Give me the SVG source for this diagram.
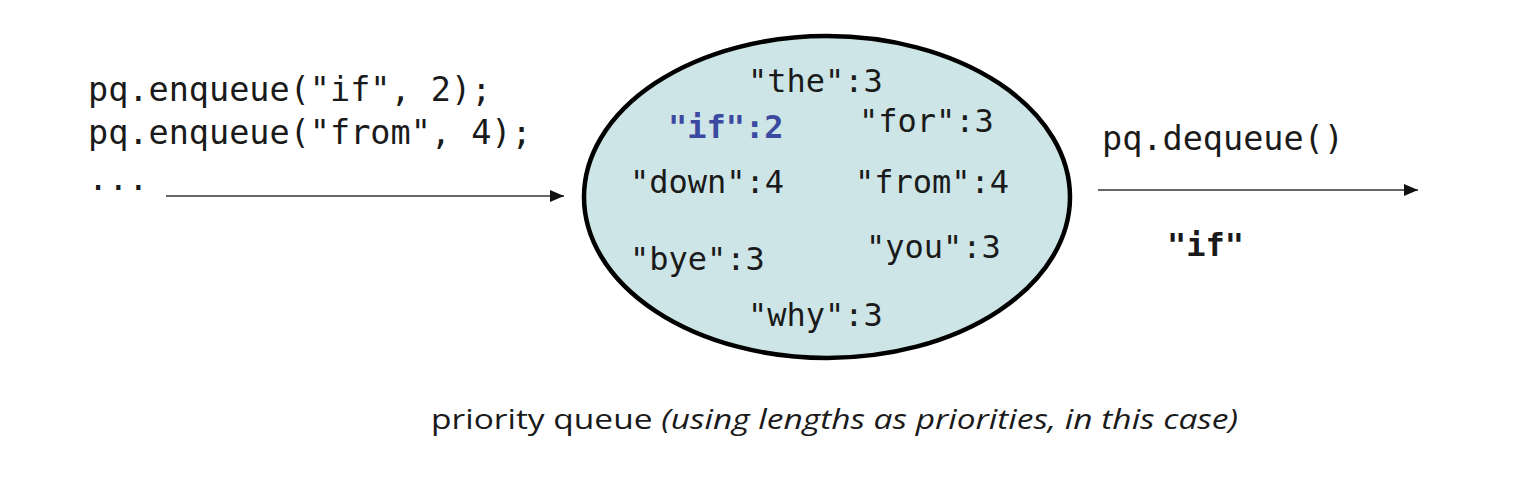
<svg xmlns="http://www.w3.org/2000/svg" width="1540" height="488" viewBox="0 0 1540 488">
<defs>
<style>
.mono{font-family:"DejaVu Sans Mono","Liberation Mono",monospace;fill:#1a1a1a}
.code{font-size:33.5px}
.item{font-size:32px}
.hl{fill:#3b4aa0;font-weight:bold}
.cap{font-family:"Open Sans","Noto Sans",sans-serif;font-size:28px;fill:#1a1a1a}
.conn{stroke:#333;stroke-width:1.6;fill:none}
</style>
<marker id="ah2" viewBox="0 0 14 12" refX="14" refY="6" markerWidth="14" markerHeight="12" markerUnits="userSpaceOnUse" orient="auto">
<path d="M0,0 L14,6 L0,12 z" fill="#111"/>
</marker>
</defs>
<rect width="1540" height="488" fill="#fff"/>
<g id="enqueue-code">
<text class="mono code" x="88" y="101">pq.enqueue("if", 2);</text>
<text class="mono code" x="88" y="144">pq.enqueue("from", 4);</text>
<text class="mono code" x="88" y="190">...</text>
</g>
<g id="pq">
<ellipse cx="827" cy="197" rx="243" ry="161" fill="#cde5e6" stroke="#000" stroke-width="4.5"/>
<text class="mono item" x="748" y="92">"the":3</text>
<text class="mono item hl" x="668" y="138">"if":2</text>
<text class="mono item" x="859" y="132">"for":3</text>
<text class="mono item" x="630" y="193">"down":4</text>
<text class="mono item" x="855" y="193">"from":4</text>
<text class="mono item" x="630" y="270">"bye":3</text>
<text class="mono item" x="866" y="258">"you":3</text>
<text class="mono item" x="748" y="326">"why":3</text>
</g>
<g id="dequeue">
<text class="mono code" x="1102" y="150">pq.dequeue()</text>
<text class="mono" x="1167" y="256" font-size="32" font-weight="bold">"if"</text>
</g>
<g id="connectors">
<line class="conn" x1="166" y1="196" x2="564" y2="196" marker-end="url(#ah2)"/>
<line class="conn" x1="1098" y1="190" x2="1418" y2="190" marker-end="url(#ah2)"/>
</g>
<g id="caption">
<text class="cap" x="431" y="429" textLength="807" lengthAdjust="spacingAndGlyphs">priority queue <tspan font-style="italic">(using lengths as priorities, in this case)</tspan></text>
</g>
</svg>
